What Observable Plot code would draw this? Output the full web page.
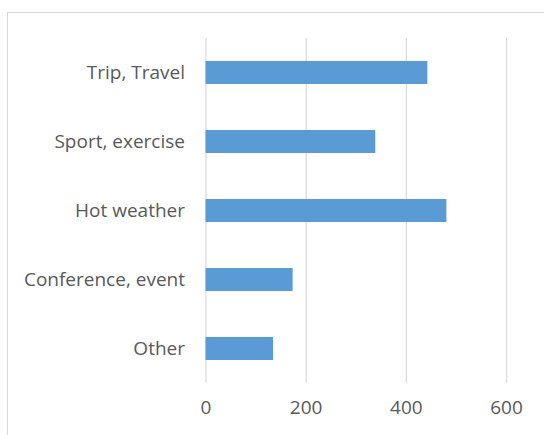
<!DOCTYPE html>
<html>
<head>
<meta charset="utf-8">
<script src="https://cdn.jsdelivr.net/npm/d3@7"></script>
<script src="https://cdn.jsdelivr.net/npm/@observablehq/plot@0.6"></script>
<style>
  html, body { margin: 0; padding: 0; background: #fff; }
  #wrap { position: relative; width: 544px; height: 435px; overflow: hidden; }
  #border { position: absolute; left: 7px; top: 12px; width: 600px; height: 500px;
            border-left: 1px solid #d9d9d9; border-top: 1px solid #d9d9d9; box-sizing: border-box; }
  #chart { position: absolute; left: 0; top: 0; }
</style>
</head>
<body>
<div id="wrap"><div id="border"></div><div id="chart"></div></div>
<script>
const categories = ["Trip, Travel", "Sport, exercise", "Hot weather", "Conference, event", "Other"];
const values = [443, 339, 481, 174, 135];
const xTicks = [0, 200, 400, 600];

const data = categories.map((c, i) => ({category: c, value: values[i]}));

const chart = Plot.plot({
  width: 544,
  height: 435,
  marginLeft: 205.5,
  marginRight: 38,
  marginTop: 38,
  marginBottom: 52,
  style: {fontFamily: "'Open Sans', sans-serif", fontSize: "19px", color: "#595959", background: "transparent"},
  x: {domain: [0, 600], ticks: xTicks, label: null},
  y: {domain: categories, paddingInner: 0.667, paddingOuter: 0.333, label: null},
  marks: [
    Plot.gridX(xTicks, {stroke: "#d9d9d9", strokeOpacity: 1, strokeWidth: 1.2}),
    Plot.barX(data, {x: "value", y: "category", fill: "#5b9bd5"}),
    Plot.axisX({ticks: xTicks, tickSize: 0, tickPadding: 17, label: null, fill: "#595959", fontSize: 19}),
    Plot.axisY({tickSize: 0, tickPadding: 21, label: null, fill: "#595959", fontSize: 19})
  ]
});
document.getElementById("chart").appendChild(chart);
</script>
</body>
</html>
